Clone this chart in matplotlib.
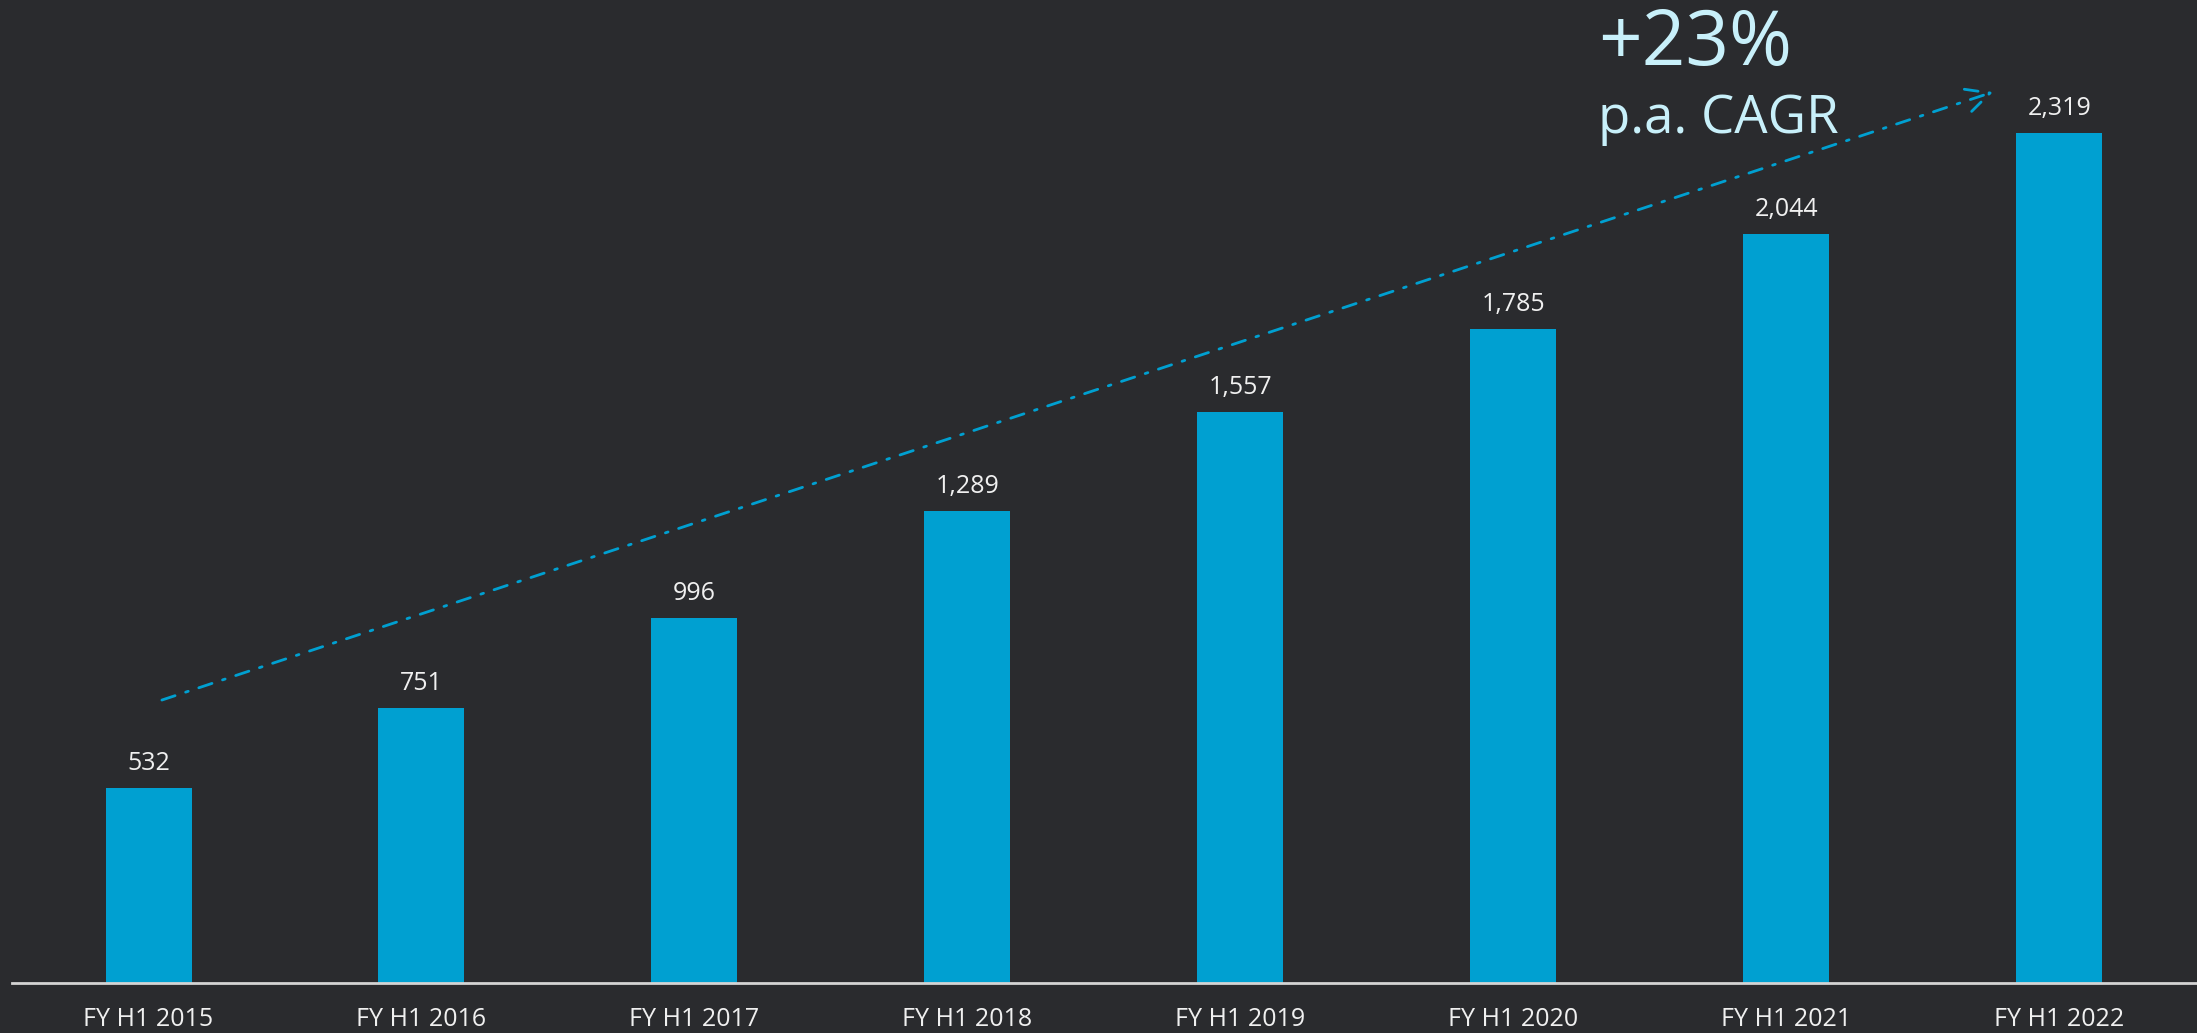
import matplotlib
matplotlib.use("Agg")
import matplotlib.pyplot as plt

plt.rcParams['font.family'] = ['Open Sans', 'DejaVu Sans']

periods = ["FY H1 2015", "FY H1 2016", "FY H1 2017", "FY H1 2018",
           "FY H1 2019", "FY H1 2020", "FY H1 2021", "FY H1 2022"]
revenue = [532, 751, 996, 1289, 1557, 1785, 2044, 2319]
cagr_text = "+23%"
cagr_sub = "p.a. CAGR"

bg = "#2a2b2e"
bar_color = "#00a0d1"
text_color = "#f0f0f0"
accent = "#c8f0fa"

fig = plt.figure(figsize=(21.97, 10.33), dpi=100, facecolor=bg)
ax = fig.add_axes([0, 0, 1, 1])
ax.set_facecolor(bg)

x = list(range(len(periods)))
ax.bar(x, revenue, width=0.315, color=bar_color, zorder=2)

for xi, v in zip(x, revenue):
    ax.annotate(f"{v:,}", (xi, v), xytext=(0, 13), textcoords="offset points",
                ha="center", va="baseline", fontsize=18, color=text_color)

ax.set_xlim(-0.544, 7.504)
ax.set_ylim(-136.4, 2682)
ax.axhline(0, xmin=12 / 2197, xmax=1, color="#d4d4d4", lw=2, zorder=3)

# axes fills the figure, so category names go in as plain text under the baseline
for xi, name in zip(x, periods):
    ax.text(xi, -117, name, ha="center", va="baseline", fontsize=18, color=text_color)

ax.set_xticks([])
ax.set_yticks([])
for s in ax.spines.values():
    s.set_visible(False)

# growth trend arrow
ax.annotate("", xy=(6.757, 2431), xytext=(0.049, 772),
            arrowprops=dict(arrowstyle="->", color=bar_color, lw=2.0,
                            linestyle=(0, (5, 4, 1, 4)),
                            mutation_scale=42, shrinkA=0, shrinkB=0))

ax.text(5.309, 2505, cagr_text, fontsize=55, color=accent, va="baseline", ha="left")
ax.text(5.309, 2319, cagr_sub, fontsize=38, color=accent, va="baseline", ha="left")

fig.savefig("out.png", dpi=100, facecolor=bg)
